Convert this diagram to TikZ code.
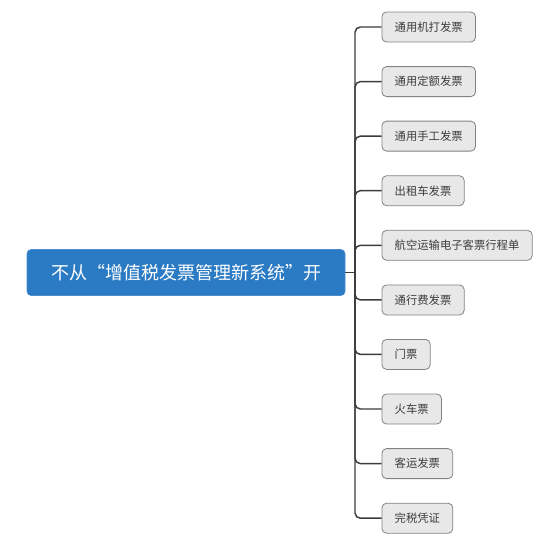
\documentclass[tikz,border=0pt]{standalone}
\usepackage{fontspec}
\newfontfamily\cjk{Noto Sans CJK SC}
\definecolor{mainblue}{RGB}{42,122,196}
\definecolor{leaffill}{RGB}{232,232,232}
\definecolor{leafdraw}{RGB}{130,130,130}
\definecolor{leaftext}{RGB}{60,60,60}
\definecolor{linecol}{RGB}{60,60,60}
\tikzset{
  rootbox/.style={fill=mainblue, draw=mainblue!85!white, rounded corners=3pt, text=white,
    minimum width=238.5pt, minimum height=34.5pt, font=\cjk\fontsize{13.5pt}{16pt}\selectfont, inner sep=0pt},
  leafbox/.style={fill=leaffill, draw=leafdraw, line width=0.6pt, rounded corners=3.5pt, text=leaftext,
    minimum height=22.5pt, inner xsep=9.6pt, inner ysep=0pt, anchor=west, font=\cjk\fontsize{8.5pt}{10pt}\selectfont},
  conn/.style={draw=linecol, line width=1.1pt, rounded corners=4pt}
}
\begin{document}
\begin{tikzpicture}[x=0.75pt, y=-0.75pt]
\useasboundingbox (0,0) rectangle (548,544);
\node[rootbox] (root) at (186,272.5) {不从“增值税发票管理新系统”开};
\coordinate (hub) at (355,272.5);
\node[leafbox] (l1) at (381.5,27) {通用机打发票};
\node[leafbox] (l2) at (381.5,81.6) {通用定额发票};
\node[leafbox] (l3) at (381.5,136.1) {通用手工发票};
\node[leafbox] (l4) at (381.5,190.7) {出租车发票};
\node[leafbox] (l5) at (381.5,245.3) {航空运输电子客票行程单};
\node[leafbox] (l6) at (381.5,299.9) {通行费发票};
\node[leafbox] (l7) at (381.5,354.4) {门票};
\node[leafbox] (l8) at (381.5,409) {火车票};
\node[leafbox] (l9) at (381.5,463.6) {客运发票};
\node[leafbox] (l10) at (381.5,518.2) {完税凭证};
\draw[conn] (root.east) -- (hub);
\foreach \n in {l1,l2,l3,l4,l5,l6,l7,l8,l9,l10}{
  \draw[conn] (hub) |- (\n.west);
}
\end{tikzpicture}
\end{document}
